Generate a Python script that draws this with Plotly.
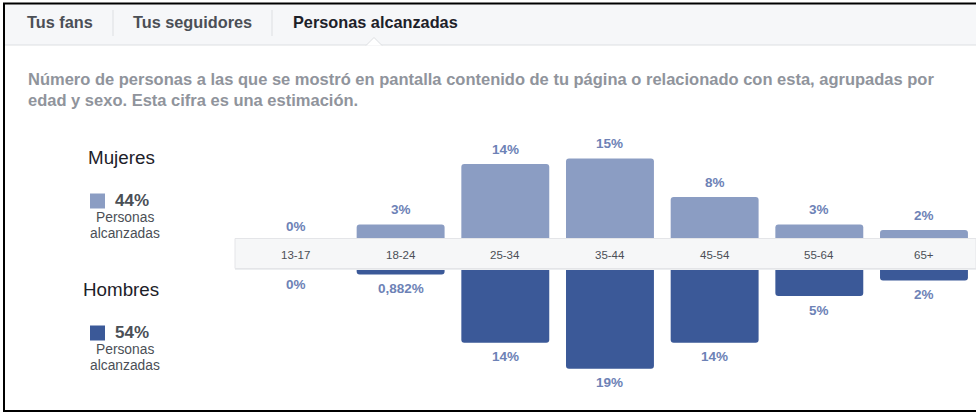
import plotly.graph_objects as go
from plotly.subplots import make_subplots

W, H = 976, 416

# ---- data ----
age_groups = ["13-17", "18-24", "25-34", "35-44", "45-54", "55-64", "65+"]
women_pct = [0, 3, 14, 15, 8, 3, 2]
men_pct = [0, 0.882, 14, 19, 14, 5, 2]
women_labels = ["0%", "3%", "14%", "15%", "8%", "3%", "2%"]
men_labels = ["0%", "0,882%", "14%", "19%", "14%", "5%", "2%"]
women_total = "44%"
men_total = "54%"
tabs = ["Tus fans", "Tus seguidores", "Personas alcanzadas"]
description = [
    "Número de personas a las que se mostró en pantalla contenido de tu página o relacionado con esta, agrupadas por",
    "edad y sexo. Esta cifra es una estimación.",
]

FONT = "Liberation Sans, Arial, Helvetica, sans-serif"
LIGHT = "#8b9dc3"
DARK = "#3b5998"
LABEL = "#6d82b6"


def px(x):
    return x / W


def py(y):
    return 1 - y / H


fig = make_subplots(rows=2, cols=1)

fig.add_trace(go.Bar(x=age_groups, y=women_pct, marker=dict(color=LIGHT, cornerradius=3, line=dict(width=0)),
                     hoverinfo="skip"), row=1, col=1)
fig.add_trace(go.Bar(x=age_groups, y=men_pct, marker=dict(color=DARK, cornerradius=3, line=dict(width=0)),
                     hoverinfo="skip"), row=2, col=1)

xr = [-0.59, 6.497]
fig.update_xaxes(domain=[px(234.2), 1.0], range=xr, showticklabels=False, showgrid=False,
                 zeroline=False, showline=False, fixedrange=True)
fig.update_yaxes(row=1, col=1, domain=[py(241), py(130)], range=[0, 111 / 5.5], visible=False)
fig.update_yaxes(row=2, col=1, domain=[py(400), py(270)], range=[130 / 5.2, 0], visible=False)

shapes = []
annotations = []

# tab bar
shapes.append(dict(type="rect", xref="paper", yref="paper", x0=px(4), x1=1, y0=py(45), y1=py(4),
                   fillcolor="#f6f7f9", line=dict(width=0), layer="below"))
shapes.append(dict(type="line", xref="paper", yref="paper", x0=px(4), x1=1, y0=py(45), y1=py(45),
                   line=dict(color="#dddfe2", width=1)))
for sx in [113, 272]:
    shapes.append(dict(type="line", xref="paper", yref="paper", x0=px(sx), x1=px(sx), y0=py(10), y1=py(36),
                       line=dict(color="#dddfe2", width=1)))
# notch under the selected tab
shapes.append(dict(type="path", xref="paper", yref="paper",
                   path=f"M {px(366)},{py(45.5)} L {px(374)},{py(37.5)} L {px(382)},{py(45.5)}",
                   fillcolor="white", line=dict(color="#dddfe2", width=1)))

tab_x = [60, 192.5, 375.5]
tab_col = ["#4b4f56", "#4b4f56", "#1d2129"]
for t, x, c in zip(tabs, tab_x, tab_col):
    annotations.append(dict(text=f"<b>{t}</b>", x=px(x), y=py(22.5), xref="paper", yref="paper",
                            showarrow=False, xanchor="center", yanchor="middle",
                            font=dict(family=FONT, size=16.3, color=c)))

for i, line in enumerate(description):
    annotations.append(dict(text=f"<b>{line}</b>", x=px(26), y=py(79 + 21.5 * i), xref="paper", yref="paper",
                            showarrow=False, xanchor="left", yanchor="middle",
                            font=dict(family=FONT, size=16.5, color="#90949c")))

# category band
shapes.append(dict(type="rect", xref="paper", yref="paper", x0=px(235), x1=1, y0=py(268.5), y1=py(238.5),
                   fillcolor="#f6f7f8", line=dict(color="#e4e5e8", width=1), layer="above"))
shapes.append(dict(type="line", xref="paper", yref="paper", x0=px(235), x1=1, y0=py(269.5), y1=py(269.5),
                   line=dict(color="#eceef0", width=1), layer="above"))

for g in age_groups:
    annotations.append(dict(text=g, x=g, xref="x", y=py(254.5), yref="paper", showarrow=False,
                            xanchor="center", yanchor="middle", font=dict(family=FONT, size=11.5, color="#4b4f56")))

for g, v, t in zip(age_groups, women_pct, women_labels):
    annotations.append(dict(text=f"<b>{t}</b>", x=g, y=v, xref="x", yref="y", yshift=15, showarrow=False,
                            xanchor="center", yanchor="middle", font=dict(family=FONT, size=13.5, color=LABEL)))
for g, v, t in zip(age_groups, men_pct, men_labels):
    annotations.append(dict(text=f"<b>{t}</b>", x=g, y=v, xref="x2", yref="y2", yshift=-14, showarrow=False,
                            xanchor="center", yanchor="middle", font=dict(family=FONT, size=13.5, color=LABEL)))

# left legend
for name, total, color, y0 in [("Mujeres", women_total, LIGHT, 157), ("Hombres", men_total, DARK, 289)]:
    annotations.append(dict(text=name, x=px(121), y=py(y0), xref="paper", yref="paper", showarrow=False,
                            xanchor="center", yanchor="middle", font=dict(family=FONT, size=18.8, color="#1d2129")))
    sy = y0 + 43.5
    shapes.append(dict(type="rect", xref="paper", yref="paper", x0=px(90), x1=px(105), y0=py(sy + 8),
                       y1=py(sy - 7), fillcolor=color, line=dict(width=0)))
    annotations.append(dict(text=f"<b>{total}</b>", x=px(113), y=py(sy), xref="paper", yref="paper",
                            showarrow=False, xanchor="left", yanchor="middle",
                            font=dict(family=FONT, size=17, color="#4b4f56")))
    annotations.append(dict(text="Personas", x=px(124.5), y=py(sy + 16.5), xref="paper", yref="paper",
                            showarrow=False, xanchor="center", yanchor="middle",
                            font=dict(family=FONT, size=13.8, color="#4b4f56")))
    annotations.append(dict(text="alcanzadas", x=px(124.5), y=py(sy + 32.5), xref="paper", yref="paper",
                            showarrow=False, xanchor="center", yanchor="middle",
                            font=dict(family=FONT, size=13.8, color="#4b4f56")))

# outer border
shapes.append(dict(type="rect", xref="paper", yref="paper", x0=px(4), x1=px(990), y0=py(411), y1=py(3.5),
                   line=dict(color="black", width=2), fillcolor="rgba(0,0,0,0)"))

fig.update_layout(
    width=W, height=H, margin=dict(l=0, r=0, t=0, b=0),
    paper_bgcolor="white", plot_bgcolor="rgba(0,0,0,0)",
    showlegend=False, bargap=0.16,
    shapes=shapes, annotations=annotations,
    font=dict(family=FONT),
)

fig.write_html("out.html", config={"displayModeBar": False},
               post_script="document.body.style.margin='0';document.body.style.overflow='hidden';")
